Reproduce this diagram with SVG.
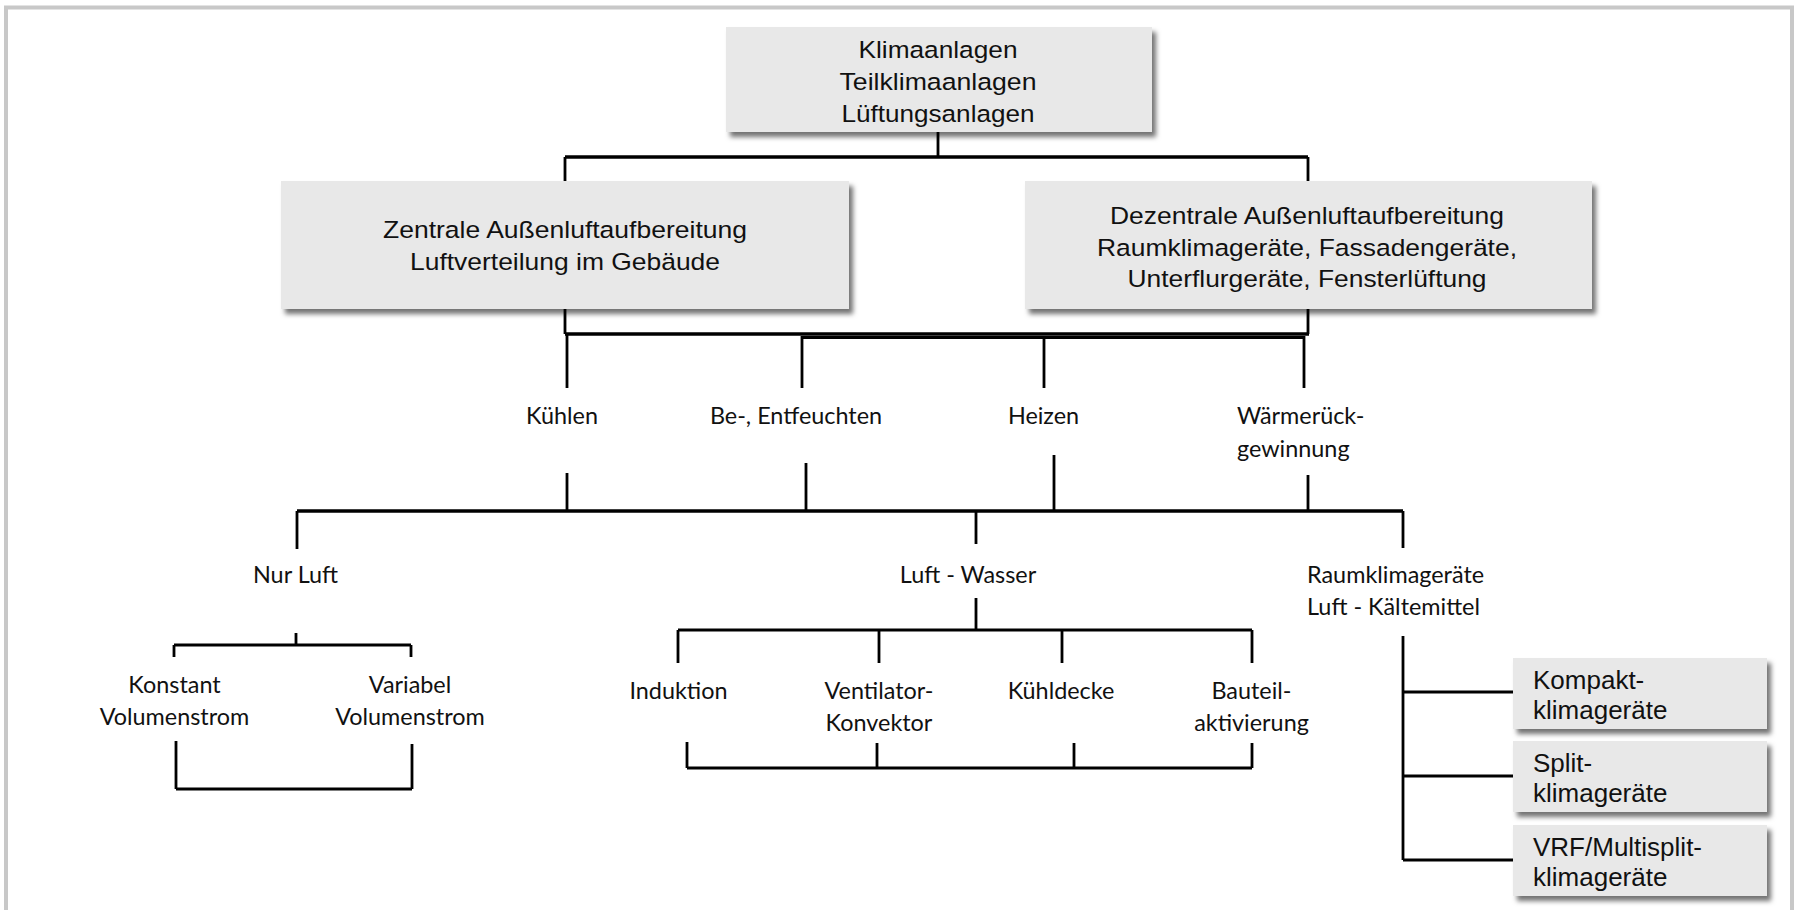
<svg xmlns="http://www.w3.org/2000/svg" width="1798" height="910" viewBox="0 0 1798 910">
<style>
.box{fill:#e8e8e8;filter:url(#sh)}
.ar{font-family:"Liberation Sans",Arial,sans-serif;fill:#111}
.big{font-size:24.5px;text-anchor:middle}
.sm{font-size:26px}
.lb{font-family:Lato,"Open Sans",sans-serif;font-size:23.4px;fill:#111}
.c{text-anchor:middle}
.ln{fill:none;stroke:#000;stroke-width:2.8}
.bar{fill:none;stroke:#000;stroke-width:3.5}
</style>
<defs>
<filter id="sh" x="-10%" y="-20%" width="130%" height="150%">
<feDropShadow dx="4" dy="5" stdDeviation="2.5" flood-color="#000" flood-opacity="0.55"/>
</filter>
</defs>
<rect x="0" y="0" width="1798" height="910" fill="#fff"/>
<rect x="6" y="7.5" width="1786" height="930" fill="none" stroke="#c8c8c8" stroke-width="4"/>

<g id="connectors">
<path class="ln" d="M938,132 V157 M565,157 V181 M1308,157 V181"/>
<path class="bar" d="M565,157 H1308"/>
<path class="ln" d="M565,309 V334 M1308,309 V334"/>
<path class="bar" d="M565,334 H1309"/>
<path class="ln" stroke-width="2.5" d="M802,337.5 H1304"/>
<path class="ln" d="M567,334 V388 M802,336 V388 M1044,336 V388 M1304,336 V388"/>
<path class="ln" d="M567,473 V511 M806,463 V511 M1054,455 V511 M1308,475 V511"/>
<path class="bar" d="M297,511 H1403"/>
<path class="ln" d="M297,511 V549 M976,511 V544 M1403,511 V548"/>
<path class="ln" d="M296,633 V645 M174,645 H411 M174,645 V657 M411,645 V657"/>
<path class="ln" d="M176,741 V789 M412,744 V789 M176,789 H412"/>
<path class="ln" d="M976,598 V630 M678,630 H1252 M678,630 V663 M879,630 V663 M1062,630 V663 M1252,630 V663"/>
<path class="ln" d="M687,742 V768 M877,743 V768 M1074,743 V768 M1252,743 V768 M687,768 H1252"/>
<path class="ln" d="M1403,636 V860 M1403,692 H1513 M1403,776 H1513 M1403,860 H1513"/>
</g>

<g id="n-klimaanlagen">
<rect class="box" x="726" y="27" width="426" height="105"/>
<text class="ar big" x="938" y="58" textLength="159" lengthAdjust="spacingAndGlyphs">Klimaanlagen</text>
<text class="ar big" x="938" y="90" textLength="197" lengthAdjust="spacingAndGlyphs">Teilklimaanlagen</text>
<text class="ar big" x="938" y="122" textLength="193" lengthAdjust="spacingAndGlyphs">Lüftungsanlagen</text>
</g>

<g id="n-zentrale">
<rect class="box" x="281" y="181" width="568" height="128"/>
<text class="ar big" x="565" y="238" font-size="24" textLength="364" lengthAdjust="spacingAndGlyphs">Zentrale Außenluftaufbereitung</text>
<text class="ar big" x="565" y="269.5" font-size="24" textLength="310" lengthAdjust="spacingAndGlyphs">Luftverteilung im Gebäude</text>
</g>

<g id="n-dezentrale">
<rect class="box" x="1025" y="181" width="567" height="128"/>
<text class="ar big" x="1307" y="224" font-size="24" textLength="394" lengthAdjust="spacingAndGlyphs">Dezentrale Außenluftaufbereitung</text>
<text class="ar big" x="1307" y="255.5" font-size="24" textLength="420" lengthAdjust="spacingAndGlyphs">Raumklimageräte, Fassadengeräte,</text>
<text class="ar big" x="1307" y="287" font-size="24" textLength="359" lengthAdjust="spacingAndGlyphs">Unterflurgeräte, Fensterlüftung</text>
</g>

<g id="n-kuehlen"><text class="lb c" x="562" y="424">Kühlen</text></g>
<g id="n-befeuchten"><text class="lb c" x="796" y="424">Be-, Entfeuchten</text></g>
<g id="n-heizen"><text class="lb c" x="1043.5" y="424">Heizen</text></g>
<g id="n-waermerueck">
<text class="lb" x="1237" y="424">Wärmerück-</text>
<text class="lb" x="1237" y="456.5">gewinnung</text>
</g>

<g id="n-nurluft"><text class="lb c" x="295.5" y="583">Nur Luft</text></g>
<g id="n-luftwasser"><text class="lb c" x="968" y="583">Luft - Wasser</text></g>
<g id="n-raumklima">
<text class="lb" x="1307" y="583">Raumklimageräte</text>
<text class="lb" x="1307" y="615">Luft - Kältemittel</text>
</g>

<g id="n-konstant">
<text class="lb c" x="174.5" y="693">Konstant</text>
<text class="lb c" x="174.5" y="725">Volumenstrom</text>
</g>
<g id="n-variabel">
<text class="lb c" x="410" y="693">Variabel</text>
<text class="lb c" x="410" y="725">Volumenstrom</text>
</g>

<g id="n-induktion"><text class="lb c" x="678.5" y="699">Induktion</text></g>
<g id="n-ventilator">
<text class="lb c" x="879" y="699">Ventilator-</text>
<text class="lb c" x="879" y="731">Konvektor</text>
</g>
<g id="n-kuehldecke"><text class="lb c" x="1061" y="699">Kühldecke</text></g>
<g id="n-bauteil">
<text class="lb c" x="1251.5" y="699">Bauteil-</text>
<text class="lb c" x="1251.5" y="731">aktivierung</text>
</g>

<g id="n-kompakt">
<rect class="box" x="1513" y="658" width="254" height="71"/>
<text class="ar sm" x="1533" y="689">Kompakt-</text>
<text class="ar sm" x="1533" y="719">klimageräte</text>
</g>
<g id="n-split">
<rect class="box" x="1513" y="741" width="254" height="71"/>
<text class="ar sm" x="1533" y="772">Split-</text>
<text class="ar sm" x="1533" y="802">klimageräte</text>
</g>
<g id="n-vrf">
<rect class="box" x="1513" y="825" width="254" height="71"/>
<text class="ar sm" x="1533" y="856">VRF/Multisplit-</text>
<text class="ar sm" x="1533" y="886">klimageräte</text>
</g>
</svg>
